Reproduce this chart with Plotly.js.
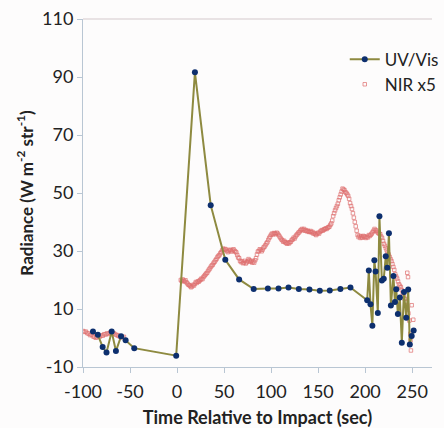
<!DOCTYPE html>
<html>
<head>
<meta charset="utf-8">
<script src="https://cdn.plot.ly/plotly-3.0.1.min.js"></script>
<style>html,body{margin:0;padding:0;background:#fdfcfc;overflow:hidden;}#chart{width:444px;height:428px;}</style>
</head>
<body>
<div id="chart"></div>
<script>
// UV/Vis series
const uvTime = [-89.4,-84.2,-79.1,-75.0,-69.5,-65.0,-59.5,-54.7,-45.5,-0.9,19.0,35.8,51.3,66.0,81.5,96.6,107.9,118.5,129.5,140.8,151.8,162.4,173.7,184.4,
  202.2,203.9,205.7,207.7,209.8,211.1,213.5,215.2,217.8,219.8,221.9,223.6,225.3,227.4,230.1,231.7,233.1,234.8,236.9,239.0,241.3,243.7,245.8,247.5,249.5,251.6];
const uvValue = [2.2,1.1,-3.1,-5.0,2.2,-4.5,0.6,-0.8,-3.5,-6.1,91.6,45.8,27.0,20.2,16.9,17.1,17.1,17.4,16.9,16.7,16.3,16.4,16.9,17.4,
  13.0,23.3,11.6,4.2,26.8,22.9,8.6,42.0,19.8,20.4,28.2,24.2,36.1,11.2,21.4,12.4,16.8,8.3,14.0,-1.6,15.9,7.0,16.7,-2.2,0.7,2.6];

// NIR x5 series (pre-impact)
const nirPreTime = [-100,-98.5,-97,-95.5,-94,-92.5,-91,-89.5,-88,-86.5,-85,-83.5,-82,-80.5,-79,-77.5,-76,-74.5,-73,-71.5,-70,-68.5,-67,-65.5,-64,-62.5,-61,-59.5,-58,-56.5];
const nirPreValue = [2.4,2.1,2.2,1.7,1.5,1.0,1.2,0.6,0.4,0.1,0.3,0.6,0.5,0.9,0.8,1.3,1.2,1.6,1.4,1.8,1.7,1.5,1.6,1.2,1.0,0.8,0.5,0.6,0.2,0.4];

// NIR x5 series (post-impact)
const nirPostTime = [4,5,6,7,8,9,10,11,12,13,14,15,16,17,18,19,20,
  21,22,23,24,25,26,27,28,29,30,31,32,33,34,35,36,37,38,39,40,
  41,42,43,44,45,46,47,48,49,50,51,52,53,54,55,56,57,58,59,60,
  61,62,63,64,65,66,67,68,69,70,71,72,73,74,75,76,77,78,79,80,
  81,82,83,84,85,86,87,88,89,90,91,92,93,94,95,96,97,98,99,100,
  101,102,103,104,105,106,107,108,109,110,111,112,113,114,115,116,117,118,119,120,
  121,122,123,124,125,126,127,128,129,130,131,132,133,134,135,136,137,138,139,140,
  141,142,143,144,145,146,147,148,149,150,151,152,153,154,155,156,157,158,159,160,
  161,162,163,164,165,166,167,168,169,170,171,172,173,174,175,176,177,178,179,180,
  181,182,183,184,185,186,187,188,189,190,191,192,193,194,195,196,197,198,199,200,
  201,202,203,204,205,206,207,208,209,210,211,212,213,214,215,216,217,218,219,220,
  221,222,223,224,225,226,227,228,229,230,231,232,233,234,235,236,237,238,239,240,
  241,242,243,244,245,246,247,248,
  244.8,245.6,249.5,251.2,248.8,248.3,248.7];
const nirPostValue = [20.0,19.6,20.2,19.8,19.5,19.9,19.2,18.8,18.4,18.2,17.9,17.5,17.8,18.3,18.1,18.7,19.3,
  19.0,19.5,19.4,19.8,20.1,20.5,20.3,21.0,21.4,21.8,22.2,22.5,23.1,23.6,24.0,24.6,25.0,25.3,25.9,26.3,
  26.8,27.3,27.9,28.3,28.6,29.2,29.6,30.2,30.8,30.4,30.7,30.5,30.0,29.6,30.0,30.4,30.3,29.8,30.2,30.6,
  30.1,29.8,29.5,28.6,27.8,27.5,26.6,26.2,26.5,25.8,26.0,26.6,25.7,26.1,26.5,27.2,26.8,26.3,26.6,26.0,
  26.4,26.0,26.8,27.5,28.8,29.8,30.0,30.6,30.3,29.9,30.5,31.2,31.5,32.0,32.6,33.0,33.8,34.5,35.0,35.6,
  36.0,35.7,36.2,36.1,35.8,36.3,36.0,35.5,35.0,34.5,34.0,33.7,33.2,33.5,33.0,32.8,32.5,32.9,32.6,33.0,
  33.2,33.8,34.0,34.6,34.3,35.0,35.5,35.8,36.3,36.5,37.0,37.3,37.6,37.2,37.6,37.0,37.2,36.8,37.0,36.6,
  36.6,36.9,36.4,36.6,36.0,36.2,35.8,35.5,36.0,36.3,36.0,36.6,36.9,37.2,37.0,37.4,37.5,37.8,37.6,38.0,
  38.2,38.4,39.0,39.5,40.5,42.0,43.0,44.0,44.8,45.5,46.3,47.5,48.5,49.5,50.5,51.5,51.2,51.0,50.3,50.0,
  49.5,49.0,48.0,46.5,45.5,44.5,43.0,41.5,40.0,38.5,37.0,35.5,34.8,35.2,34.5,35.0,34.6,35.2,35.0,34.8,
  34.5,35.0,34.7,35.5,35.2,35.6,36.0,36.5,37.0,37.6,37.2,37.0,36.5,36.2,36.0,35.8,35.0,34.5,33.5,32.5,
  31.8,31.0,30.2,29.5,28.8,28.0,27.2,26.5,25.5,24.5,23.5,22.0,21.2,20.5,19.5,18.5,18.0,17.5,16.5,15.5,
  14.5,13.5,12.5,11.0,10.0,8.5,6.0,1.5,
  22.5,21.0,11.3,6.3,0.8,-0.8,-4.3];

const xTickVals = [-100,-50,0,50,100,150,200,250];
const xTickText = ['-100','-50','0','50','100','150','200','250'];
const yTickVals = [-10,10,30,50,70,90,110];
const yTickText = ['-10','10','30','50','70','90','110'];

const FONT = 'Lato, "Open Sans", sans-serif';
const nirTime = nirPreTime.concat(nirPostTime);
const nirValue = nirPreValue.concat(nirPostValue);

const traces = [
  {
    x: nirTime, y: nirValue, name: 'NIR x5', type: 'scatter', mode: 'markers',
    marker: {symbol: 'square-open', size: 3.5, color: 'rgba(222,110,110,0.7)', line: {width: 1}}
  },
  {
    x: uvTime, y: uvValue, name: 'UV/Vis', type: 'scatter', mode: 'lines+markers',
    line: {color: '#8e8a40', width: 2},
    marker: {color: '#0d2f6e', size: 6}
  }
];

const layout = {
  width: 444, height: 428,
  margin: {l: 83, r: 0, t: 19, b: 61},
  paper_bgcolor: '#fdfcfc', plot_bgcolor: '#fdfcfc',
  font: {family: FONT, size: 16, color: '#222'},
  showlegend: true,
  legend: {x: 0.75, y: 0.935, xanchor: 'left', yanchor: 'top', traceorder: 'reversed',
    bgcolor: 'rgba(0,0,0,0)', font: {family: FONT, size: 17, color: '#222'}, itemwidth: 30},
  xaxis: {
    range: [-100, 271.1], tickvals: xTickVals, ticktext: xTickText, ticks: 'outside', ticklen: 5, tickcolor: '#b9c6d3',
    showline: true, linecolor: '#b9c6d3', linewidth: 1, mirror: false, showgrid: false, zeroline: false,
    tickfont: {family: FONT, size: 18, color: '#222'}, ticklabelstandoff: 3, automargin: true,
    title: {text: '<b>Time Relative to Impact (sec)</b>', font: {family: FONT, size: 18, color: '#222'}, standoff: 12}
  },
  yaxis: {
    range: [-10, 110], tickvals: yTickVals, ticktext: yTickText, ticks: 'outside', ticklen: 5, tickcolor: '#b9c6d3',
    showline: true, linecolor: '#b9c6d3', linewidth: 1, showgrid: false, zeroline: false,
    tickfont: {family: FONT, size: 18, color: '#222'}, automargin: true,
    title: {text: '<b>Radiance (W m<sup>-2</sup> str<sup>-1</sup>)</b>', font: {family: FONT, size: 17, color: '#222'}, standoff: 4}
  },
  shapes: [{type: 'line', xref: 'paper', yref: 'paper', x0: 0, x1: 1, y0: 1, y1: 1, line: {color: '#d4c9cc', width: 1}}]
};

Plotly.newPlot('chart', traces, layout, {displayModeBar: false, staticPlot: true});
</script>
</body>
</html>
